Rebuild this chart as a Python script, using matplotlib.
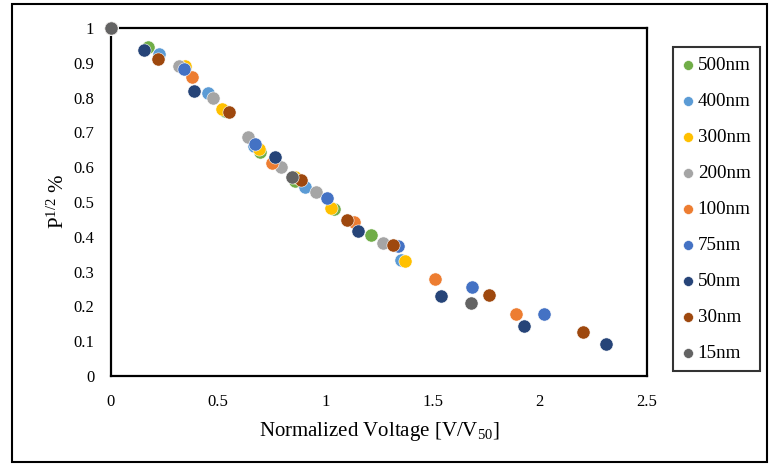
import matplotlib
matplotlib.use('Agg')
import matplotlib.pyplot as plt
from matplotlib.patches import Rectangle

plt.rcParams['font.family'] = ['Liberation Serif', 'DejaVu Serif']
plt.rcParams['mathtext.fontset'] = 'custom'
plt.rcParams['mathtext.rm'] = 'Liberation Serif'
plt.rcParams['mathtext.it'] = 'Liberation Serif:italic'

# series data: normalized voltage, sqrt of P
labels = ['500nm', '400nm', '300nm', '200nm', '100nm', '75nm', '50nm', '30nm', '15nm']
colors = ['#70AD47', '#5B9BD5', '#FFC000', '#A5A5A5', '#ED7D31',
          '#4472C4', '#264478', '#9E480E', '#636363']

x_500 = [0, 0.172, 0.344, 0.530, 0.693, 0.856, 1.042, 1.214]
y_500 = [1, 0.945, 0.888, 0.761, 0.644, 0.560, 0.480, 0.405]

x_400 = [0, 0.223, 0.451, 0.665, 0.907, 1.353]
y_400 = [1, 0.925, 0.813, 0.662, 0.543, 0.333]

x_300 = [0, 0.344, 0.516, 0.688, 0.860, 1.028, 1.372]
y_300 = [1, 0.890, 0.767, 0.652, 0.572, 0.483, 0.330]

x_200 = [0, 0.316, 0.474, 0.637, 0.795, 0.958, 1.270]
y_200 = [1, 0.891, 0.799, 0.687, 0.601, 0.529, 0.382]

x_100 = [0, 0.377, 0.753, 1.135, 1.512, 1.888]
y_100 = [1, 0.859, 0.612, 0.443, 0.279, 0.178]

x_75 = [0, 0.340, 0.670, 1.009, 1.340, 1.684, 2.019]
y_75 = [1, 0.882, 0.667, 0.511, 0.374, 0.256, 0.178]

x_50 = [0, 0.153, 0.386, 0.767, 1.153, 1.540, 1.926, 2.307]
y_50 = [1, 0.937, 0.819, 0.629, 0.417, 0.230, 0.144, 0.092]

x_30 = [0, 0.219, 0.549, 0.884, 1.102, 1.316, 1.763, 2.200]
y_30 = [1, 0.911, 0.759, 0.563, 0.448, 0.376, 0.233, 0.126]

x_15 = [0, 0.842, 1.679]
y_15 = [1, 0.572, 0.210]

xs = [x_500, x_400, x_300, x_200, x_100, x_75, x_50, x_30, x_15]
ys = [y_500, y_400, y_300, y_200, y_100, y_75, y_50, y_30, y_15]

fig = plt.figure(figsize=(7.69, 4.66), dpi=100)
ax = fig.add_axes([111/769, 90/466, 536/769, 348/466])

for x, y, lab, c in zip(xs, ys, labels, colors):
    ax.scatter(x, y, s=90, color=c, label=lab, edgecolors='white',
               linewidths=0.4, zorder=3, clip_on=False)

ax.set_xlim(0, 2.5)
ax.set_ylim(0, 1)
ax.set_xticks([0, 0.5, 1, 1.5, 2, 2.5])
ax.set_xticklabels(['0', '0.5', '1', '1.5', '2', '2.5'])
ax.set_yticks([i / 10 for i in range(11)])
ax.set_yticklabels(['0'] + ['0.%d' % i for i in range(1, 10)] + ['1'])
ax.tick_params(length=0, labelsize=12)
ax.tick_params(axis='x', pad=13)
ax.tick_params(axis='y', pad=12)
for sp in ax.spines.values():
    sp.set_linewidth(1.6)
    sp.set_color('black')

ax.set_xlabel('Normalized Voltage [V/V$_{50}$]', fontsize=15, labelpad=7)
ax.set_ylabel('P$^{1/2}$ %', fontsize=15, labelpad=3)

leg = fig.legend(loc='upper left', bbox_to_anchor=(673/769, 1 - 47/466),
                 fontsize=13.7, frameon=True, fancybox=False, edgecolor='black',
                 handletextpad=0.2, handlelength=0.6, labelspacing=0.98,
                 borderpad=0.5, scatterpoints=1, markerscale=0.75,
                 borderaxespad=0)
leg.get_frame().set_linewidth(1.5)

# outer chart border
fig.patches.append(Rectangle((12/769, 4/466), 755/769, 458/466, transform=fig.transFigure,
                             fill=False, edgecolor='black', linewidth=1.5))

fig.savefig('out.png', dpi=100)
